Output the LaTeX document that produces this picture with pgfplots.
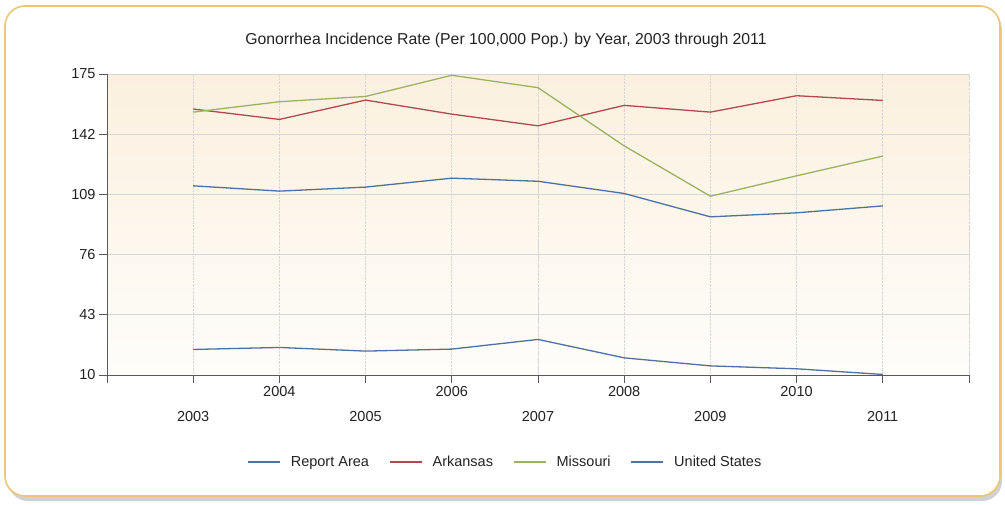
\documentclass[border=0pt]{standalone}
\usepackage{fontspec}
\setmainfont{Liberation Sans}
\usepackage{pgfplots}
\pgfplotsset{compat=1.18}
\definecolor{frameC}{HTML}{EDC675}
\definecolor{bgTop}{HTML}{FBF0DE}
\definecolor{bgBot}{HTML}{FEFDFA}
\definecolor{gridC}{HTML}{D6D6D6}
\definecolor{cBlue}{HTML}{4F71A0}
\definecolor{cRed}{HTML}{B04A4E}
\definecolor{cGreen}{HTML}{98B462}
\definecolor{txtC}{HTML}{222222}
\begin{document}
\begin{tikzpicture}
\useasboundingbox (0pt,0pt) rectangle (1005pt,504pt);
\fill[black!18, rounded corners=20pt] (8pt,3pt) rectangle (1002pt,494pt);
\draw[frameC, line width=1.6pt, fill=white, rounded corners=20pt] (5pt,8pt) rectangle (1000pt,498pt);
\node[font=\fontsize{15.8}{18}\selectfont, text=txtC] at (506pt,464pt) {Gonorrhea Incidence Rate (Per 100,000 Pop.) by Year, 2003 through 2011};
\begin{axis}[
  at={(107pt,129pt)}, anchor=south west,
  scale only axis, width=862pt, height=301pt,
  xmin=2002, xmax=2012, ymin=10, ymax=175,
  axis lines=left, axis line style={-, draw=black!65, line width=0.8pt},
  ytick={10,43,76,109,142,175},
  xtick={2002,...,2012},
  xticklabels={,2003,2004,2005,2006,2007,2008,2009,2010,2011,},
  xticklabel style={yshift={-mod(\ticknum,2)*25pt}},
  extra x ticks={2007,2012},
  extra x tick labels={},
  extra x tick style={grid=major, major grid style={solid, draw=gridC, line width=0.8pt}, xticklabel style={yshift=0pt}},
  tick align=outside, major tick length=8pt,
  tick style={draw=black!65, line width=0.8pt},
  ticklabel style={font=\fontsize{14.5}{17}\selectfont, text=txtC},
  /pgf/number format/assume math mode=true,
  /pgf/number format/1000 sep={},
  xmajorgrids, ymajorgrids,
  x grid style={densely dotted, draw=gridC, line width=0.8pt},
  y grid style={solid, draw=gridC, line width=0.8pt},
  axis background/.style={shade, top color=bgTop, bottom color=bgBot},
  legend columns=4,
  legend style={at={(0.462,-0.29)}, anchor=center, draw=none, fill=none,
    font=\fontsize{14.5}{17}\selectfont, text=txtC,
    /tikz/every odd column/.append style={column sep=8pt},
    /tikz/every even column/.append style={column sep=18pt}},
  legend image code/.code={\draw[#1, line width=1.6pt] (0pt,0pt) -- (32pt,0pt);},
  every axis plot/.append style={line width=1.3pt},
]
\addplot[cBlue] coordinates {(2003,24.0) (2004,25.1) (2005,23.1) (2006,24.2) (2007,29.5) (2008,19.4) (2009,15.0) (2010,13.4) (2011,10.3)};
\addlegendentry{Report Area}
\addplot[cRed] coordinates {(2003,155.8) (2004,150.1) (2005,160.7) (2006,153.0) (2007,146.6) (2008,157.8) (2009,154.1) (2010,163.1) (2011,160.5)};
\addlegendentry{Arkansas}
\addplot[cGreen] coordinates {(2003,154.1) (2004,159.8) (2005,162.7) (2006,174.3) (2007,167.5) (2008,135.6) (2009,108.0) (2010,119.2) (2011,130.0)};
\addlegendentry{Missouri}
\addplot[cBlue] coordinates {(2003,113.7) (2004,110.8) (2005,113.0) (2006,117.9) (2007,116.2) (2008,109.5) (2009,96.7) (2010,98.9) (2011,102.7)};
\addlegendentry{United States}
\end{axis}
\end{tikzpicture}
\end{document}
